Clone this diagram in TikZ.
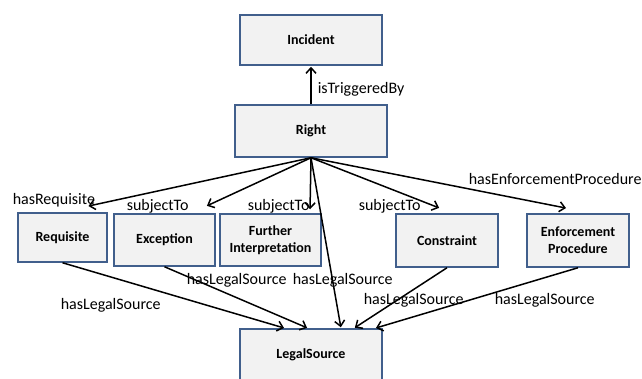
\documentclass[tikz,border=0pt]{standalone}
\usepackage{fontspec}
\setmainfont{Carlito}
\usetikzlibrary{arrows.meta}
\definecolor{boxfill}{RGB}{242,242,242}
\definecolor{boxline}{RGB}{65,95,140}

\begin{document}
\begin{tikzpicture}[x=1pt,y=-1pt,->,>={Straight Barb[length=5.5pt,width=10pt]},line width=1.5pt,shorten >=1pt,
      concept/.style={rectangle,draw=boxline,fill=boxfill,line width=1.5pt,inner sep=0pt,align=center,
        font=\fontsize{14}{17}\selectfont\bfseries,minimum width=101pt,minimum height=52pt},
      rel/.style={font=\fontsize{16}{19}\selectfont,anchor=west,inner sep=0pt}]
      \useasboundingbox (0,0) rectangle (642,378);
      \node[concept,minimum width=142pt,minimum height=50pt] (incident) at (311,40) {Incident};
      \node[concept,minimum width=152pt] (right) at (311,131) {Right};
      \node[concept,minimum width=89pt,minimum height=49pt] (requisite) at (62.5,237.5) {Requisite};
      \node[concept] (exception) at (164.5,240) {Exception};
      \node[concept] (further) at (270.5,240) {Further\\Interpretation};
      \node[concept,minimum width=102pt,minimum height=53pt] (constraint) at (447,240.5) {Constraint};
      \node[concept,minimum width=102pt,minimum height=53pt] (enforcement) at (578,240.5) {Enforcement\\Procedure};
      \node[concept,minimum width=142pt] (legal) at (311,355) {LegalSource};
      % relations of Right
      \draw (right.north) -- (incident.south);
      \draw (right.south) -- ([xshift=25pt,yshift=6pt]requisite.north);
      \draw (right.south) -- ([xshift=41.5pt,yshift=7pt]exception.north);
      \draw (right.south) -- ([xshift=39.5pt,yshift=3pt]further.north);
      \draw (right.south) -- ([xshift=-7pt,yshift=5pt]constraint.north);
      \draw (right.south) -- ([xshift=-11pt,yshift=5pt]enforcement.north);
      \draw (right.south) -- ([xshift=30pt]legal.north);
      % legal sources
      \draw (requisite.south) -- ([xshift=-26pt]legal.north);
      \draw (exception.south) -- ([xshift=-3pt]legal.north);
      \draw (constraint.south) -- ([xshift=43pt]legal.north);
      \draw (enforcement.south) -- ([xshift=64pt]legal.north);
      % labels
      \node[rel] (lTrig) at (317,89) {isTriggeredBy};
      \node[rel] (lReq) at (12,200) {hasRequisite};
      \node[rel] (lSub1) at (126,206) {subjectTo};
      \node[rel] (lSub2) at (247,206) {subjectTo};
      \node[rel] (lSub3) at (358,206) {subjectTo};
      \node[rel] (lEnf) at (468,179) {hasEnforcementProcedure};
      \node[rel] (lSrc1) at (60,305) {hasLegalSource};
      \node[rel] (lSrc2) at (186,280) {hasLegalSource};
      \node[rel] (lSrc3) at (292,280) {hasLegalSource};
      \node[rel] (lSrc4) at (363,300) {hasLegalSource};
      \node[rel] (lSrc5) at (494,300) {hasLegalSource};
\end{tikzpicture}
\end{document}
